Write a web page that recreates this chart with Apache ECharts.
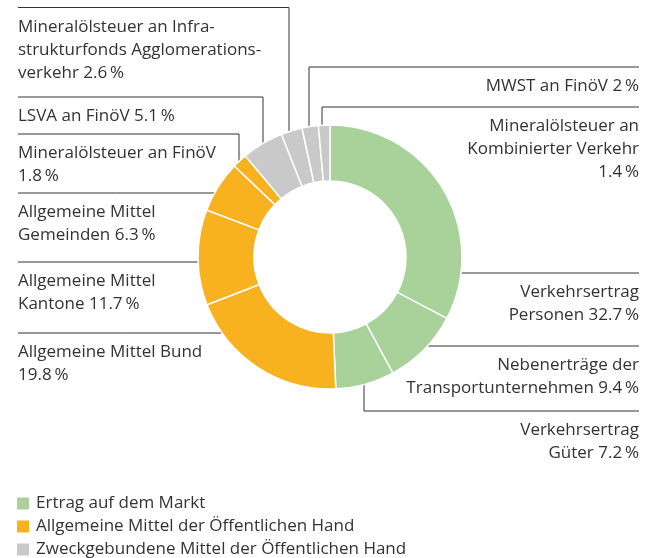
<!DOCTYPE html>
<html>
<head>
<meta charset="utf-8">
<script src="https://cdn.jsdelivr.net/npm/echarts@6/dist/echarts.min.js"></script>
<style>
  html, body { margin: 0; padding: 0; background: #fff; }
  #chart { width: 649px; height: 558px; }
</style>
</head>
<body>
<div id="chart"></div>
<script>
// Anteile in %, im Uhrzeigersinn ab 12 Uhr
const sliceNames = [
  'Verkehrsertrag Personen',
  'Nebenerträge der Transportunternehmen',
  'Verkehrsertrag Güter',
  'Allgemeine Mittel Bund',
  'Allgemeine Mittel Kantone',
  'Allgemeine Mittel Gemeinden',
  'Mineralölsteuer an FinöV',
  'LSVA an FinöV',
  'Mineralölsteuer an Infrastrukturfonds Agglomerationsverkehr',
  'MWST an FinöV',
  'Mineralölsteuer an Kombinierter Verkehr'
];
const sliceValues = [32.7, 9.4, 7.2, 19.8, 11.7, 6.3, 1.8, 5.1, 2.6, 2, 1.4];
// 0 = Markt, 1 = allgemeine Mittel, 2 = zweckgebundene Mittel
const sliceGroup = [0, 0, 0, 1, 1, 1, 1, 2, 2, 2, 2];
const sliceLabels = [
  'Verkehrsertrag\nPersonen',
  'Nebenerträge der\nTransportunternehmen',
  'Verkehrsertrag\nGüter',
  'Allgemeine Mittel Bund\n',
  'Allgemeine Mittel\nKantone',
  'Allgemeine Mittel\nGemeinden',
  'Mineralölsteuer an FinöV\n',
  'LSVA an FinöV',
  'Mineralölsteuer an Infra-\nstrukturfonds Agglomerations-\nverkehr',
  'MWST an FinöV',
  'Mineralölsteuer an\nKombinierter Verkehr\n'
];
const groupNames = [
  'Ertrag auf dem Markt',
  'Allgemeine Mittel der Öffentlichen Hand',
  'Zweckgebundene Mittel der Öffentlichen Hand'
];
const groupColors = ['#a8d29a', '#f8b220', '#c8c9c8'];

// Beschriftungs-Layout: side, Linienhöhe y, Anschluss (h = waagrecht, v = senkrecht bei x)
const CX = 330, CY = 257, R_IN = 76, R_OUT = 132;
const labelSpec = [
  { side: 'r', y: 273, kind: 'h' },
  { side: 'r', y: 346, kind: 'h' },
  { side: 'r', y: 411, kind: 'v', x: 364 },
  { side: 'l', y: 333, kind: 'h' },
  { side: 'l', y: 262, kind: 'h' },
  { side: 'l', y: 193, kind: 'h' },
  { side: 'l', y: 134, kind: 'v', x: 239 },
  { side: 'l', y: 97, kind: 'v', x: 263 },
  { side: 'l', y: 7.5, kind: 'v', x: 289 },
  { side: 'r', y: 67, kind: 'v', x: 309 },
  { side: 'r', y: 107, kind: 'v', x: 322 }
];
const LEFT_X = 18, RIGHT_X = 639;

function fmtPct(v) {
  return String(v) + '\u2009%';
}

function edgePoint(spec) {
  if (spec.kind === 'h') {
    const dy = spec.y - CY;
    const dx = Math.sqrt(R_OUT * R_OUT - dy * dy);
    return [spec.side === 'l' ? CX - dx : CX + dx, spec.y];
  }
  const dx = spec.x - CX;
  const dy = Math.sqrt(R_OUT * R_OUT - dx * dx);
  return [spec.x, spec.y < CY ? CY - dy : CY + dy];
}

const pieData = sliceNames.map((name, i) => {
  let txt = sliceLabels[i];
  // Prozentwert an die letzte Zeile anhängen
  if (txt.endsWith('\n')) txt = txt + fmtPct(sliceValues[i]);
  else txt = txt + ' ' + fmtPct(sliceValues[i]);
  return {
    name: name,
    value: sliceValues[i],
    itemStyle: { color: groupColors[sliceGroup[i]] },
    label: {
      formatter: txt,
      align: labelSpec[i].side === 'l' ? 'left' : 'right'
    }
  };
});

const chart = echarts.init(document.getElementById('chart'));

const option = {
  animation: false,
  backgroundColor: '#fff',
  legend: {
    orient: 'vertical',
    left: 17,
    top: 495,
    bottom: 0,
    padding: 0,
    itemWidth: 12,
    itemHeight: 12,
    itemGap: 6,
    icon: 'rect',
    selectedMode: false,
    data: groupNames,
    textStyle: {
      fontFamily: 'Open Sans',
      fontSize: 17,
      color: '#333',
      padding: [0, 0, 0, 2]
    }
  },
  series: [
    {
      type: 'pie',
      center: [CX, CY],
      radius: [R_IN, R_OUT],
      startAngle: 90,
      clockwise: true,
      avoidLabelOverlap: false,
      silent: true,
      itemStyle: { borderColor: '#fff', borderWidth: 1.5 },
      label: {
        show: true,
        position: 'outside',
        fontFamily: 'Open Sans',
        fontSize: 17,
        lineHeight: 23,
        color: '#333'
      },
      labelLine: {
        show: true,
        smooth: false,
        lineStyle: { color: '#333', width: 1 }
      },
      labelLayout: function (params) {
        const i = params.dataIndex;
        const spec = labelSpec[i];
        const p0 = edgePoint(spec);
        const endX = spec.side === 'l' ? LEFT_X : RIGHT_X;
        let pts;
        if (spec.kind === 'h') {
          pts = [p0, [(p0[0] + endX) / 2, spec.y], [endX, spec.y]];
        } else {
          pts = [p0, [spec.x, spec.y], [endX, spec.y]];
        }
        return {
          x: endX,
          y: spec.y + 8,
          align: spec.side === 'l' ? 'left' : 'right',
          verticalAlign: 'top',
          labelLinePoints: pts
        };
      },
      data: pieData
    }
  ].concat(groupNames.map((g, k) => ({
    type: 'custom',
    name: g,
    coordinateSystem: 'none',
    itemStyle: { color: groupColors[k] },
    renderItem: function () { return null; },
    data: []
  })))
};

chart.setOption(option);
</script>
</body>
</html>
